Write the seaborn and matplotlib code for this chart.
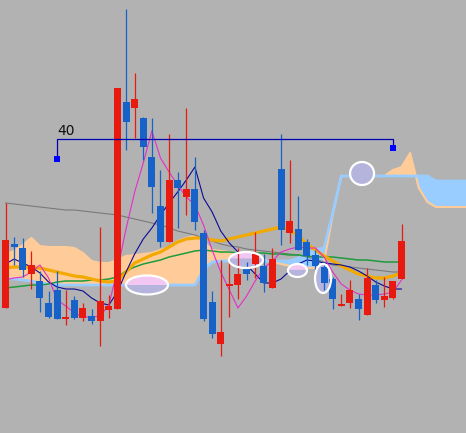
import numpy as np
import matplotlib
matplotlib.use('Agg')
import matplotlib.pyplot as plt
import seaborn as sns
from matplotlib.patches import Ellipse, Polygon

# Свечи (цена в условных единицах)
opens = [125, 189, 185, 159, 152, 130, 143, 114, 133, 115, 117, 112, 123, 124, 331, 325,
         315, 276, 227, 191, 253, 236, 244, 200, 131, 89, 147, 148, 164, 169, 167, 145,
         264, 200, 204, 191, 178, 166, 154, 127, 130, 134, 118, 148, 133, 135, 154]
highs = [230, 196, 195, 182, 162, 142, 162, 143, 137, 130, 124, 206, 138, 345, 424, 360,
         316, 315, 263, 299, 261, 325, 276, 203, 142, 173, 176, 185, 171, 201, 179, 185,
         299, 273, 237, 194, 183, 171, 156, 139, 153, 139, 165, 153, 156, 152, 209]
lows = [125, 168, 156, 144, 121, 115, 114, 108, 114, 112, 109, 87, 115, 124, 283, 295,
        273, 220, 186, 191, 205, 218, 203, 112, 95, 77, 116, 134, 153, 155, 141, 145,
        188, 190, 183, 168, 163, 143, 124, 127, 125, 113, 118, 130, 126, 134, 154]
closes = [193, 186, 163, 168, 135, 116, 114, 116, 115, 125, 112, 132, 127, 345, 311, 334,
          286, 246, 191, 253, 245, 244, 211, 114, 99, 101, 149, 159, 159, 179, 150, 174,
          203, 212, 183, 177, 167, 150, 134, 129, 143, 124, 155, 133, 137, 152, 192]

# Индикаторы
gray_ma = [230, 229, 228, 227, 226, 225, 224, 223, 223, 222, 221, 220, 219, 218, 216, 214,
           212, 210, 208, 205, 202, 200, 198, 195, 192, 189, 187, 186, 184, 183, 182, 181,
           180, 179, 178, 176, 174, 171, 168, 167, 166, 165, 164, 163, 162, 161, 161]
kijun = [169, 174, 170, 166, 160, 151, 146, 144, 144, 142, 135, 130, 128, 141, 161, 179,
         194, 205, 218, 230, 241, 253, 266, 235, 221, 202, 190, 181, 168, 159, 150, 150,
         154, 162, 169, 173, 172, 170, 169, 168, 166, 162, 157, 151, 147, 144, 144]
tenkan = [153, 155, 156, 161, 168, 155, 133, 127, 120, 116, 116, 117, 128, 163, 204, 241,
          270, 302, 275, 261, 248, 236, 228, 208, 183, 161, 143, 125, 137, 152, 165, 172,
          181, 184, 186, 185, 185, 176, 161, 149, 143, 139, 138, 138, 139, 141, 153]
orange_ma = [165, 166, 166, 165, 165, 163, 161, 159, 157, 156, 154, 152, 151, 152, 161, 170,
             174, 178, 181, 186, 191, 194, 195, 195, 193, 192, 194, 196, 198, 200, 202, 204,
             206, 203, 197, 189, 183, 177, 172, 167, 163, 159, 157, 155, 155, 157, 160]
green_ma = [145, 146, 147, 148, 148, 149, 151, 152, 152, 152, 153, 153, 154, 156, 162, 166,
            169, 171, 173, 176, 178, 180, 182, 183, 182, 181, 181, 180, 180, 180, 180, 179,
            179, 178, 178, 177, 176, 176, 176, 175, 174, 173, 173, 172, 171, 171, 171]
span_a = [154, 154, 153, 152, 150, 149, 148, 148, 148, 148, 148, 148, 148, 148, 148, 148,
          148, 148, 148, 148, 148, 148, 148, 163, 171, 172, 172, 172, 172, 172, 172, 172,
          172, 172, 175, 179, 183, 185, 220, 257, 257, 257, 257, 257, 257, 257, 257, 257,
          257, 257, 252, 252, 252, 252, 252]
span_b = [179, 182, 188, 195, 187, 186, 186, 186, 185, 180, 172, 170, 170, 173, 177, 178,
          179, 180, 183, 186, 192, 195, 197, 191, 183, 182, 181, 178, 176, 175, 173, 171,
          169, 167, 165, 165, 165, 171, 218, 257, 257, 257, 257, 257, 257, 263, 266, 280,
          245, 231, 226, 226, 226, 226, 226]

# Выделенные зоны (центр по барам, центр по цене)
zone_bar = [16.43, 27.93, 33.91, 36.88, 41.41]
zone_price = [148, 173, 162.5, 154.5, 259.5]

# Линейка
ruler_start, ruler_end = 6, 45
ruler_level = 294
ruler_marks = [274, 285]

BG = '#B2B2B2'
RED = '#E8190E'
BLUE = '#1662C8'
PEACH = '#FFCC99'
LBLUE = '#99CCFF'

sns.set_style('white', {'axes.facecolor': BG, 'figure.facecolor': BG})

fig = plt.figure(figsize=(4.66, 4.33), dpi=100)
fig.patch.set_facecolor(BG)
ax = fig.add_axes([0, 0, 1, 1])
ax.set_facecolor(BG)

bar_px = 8.61
idx = np.arange(len(opens))
idx_c = np.arange(len(span_a))
sa = np.array(span_a, dtype=float)
sb = np.array(span_b, dtype=float)

# Облако
ax.fill_between(idx_c, sa, sb, where=sb >= sa, interpolate=True, color=PEACH, lw=0, zorder=1)
ax.fill_between(idx_c, sa, sb, where=sa > sb, interpolate=True, color=LBLUE, lw=0, zorder=1)
sns.lineplot(x=idx_c, y=sb, color=PEACH, lw=1.5, ax=ax, zorder=2)
sns.lineplot(x=idx_c, y=sa, color=LBLUE, lw=2.0, ax=ax, zorder=2)

# Линии
sns.lineplot(x=idx, y=gray_ma, color='#7A7A7A', lw=0.8, ax=ax, zorder=3)
sns.lineplot(x=idx, y=green_ma, color='#1E9B3C', lw=1.1, ax=ax, zorder=3)
sns.lineplot(x=idx, y=orange_ma, color='#F2A900', lw=2.3, ax=ax, zorder=3)
sns.lineplot(x=idx, y=kijun, color='#0A0A96', lw=0.8, ax=ax, zorder=3)
sns.lineplot(x=idx, y=tenkan, color='#E62EC8', lw=0.8, ax=ax, zorder=3)

# Выделения
sizes = [(42, 19), (34, 16), (19, 13), (16, 29), (24, 23)]
pink_cut = [0.0, 0.2, 0.1]
for k, (xb, yp) in enumerate(zip(zone_bar, zone_price)):
    w, h = sizes[k][0] / bar_px, sizes[k][1]
    ax.add_patch(Ellipse((xb, yp), w, h, facecolor='#B4B4DC', edgecolor='none', zorder=4))
    if k < len(pink_cut):
        t0 = np.arcsin(pink_cut[k])
        t = np.linspace(t0, np.pi - t0, 60)
        pts = np.column_stack([xb + w / 2 * np.cos(t), yp + h / 2 * np.sin(t)])
        ax.add_patch(Polygon(pts, closed=True, facecolor='#F2C8F2', edgecolor='none',
                             zorder=4.1))
    ax.add_patch(Ellipse((xb, yp), w, h, facecolor='none', edgecolor='white',
                         lw=1.6, zorder=6))

# Свечи
o = np.array(opens); c = np.array(closes)
colors = [RED if cc >= oo else BLUE for oo, cc in zip(o, c)]
ax.vlines(idx, lows, highs, colors=colors, lw=0.9, zorder=5)
bottom = np.minimum(o, c)
height = np.maximum(np.abs(c - o), 2)
ax.bar(idx, height, bottom=bottom, width=7 / bar_px, color=colors, lw=0, zorder=5)

# Линейка
ax.plot([ruler_start, ruler_start, ruler_end, ruler_end],
        [ruler_marks[0], ruler_level, ruler_level, ruler_marks[1]],
        color='#0000B0', lw=0.9, zorder=7)
ax.plot([ruler_start, ruler_end], ruler_marks, 's', color='#0000FF', ms=5, mew=0, zorder=7)
ax.text(ruler_start - 0.02, ruler_level + 4, str(ruler_end - ruler_start + 1),
        fontsize=10, color='#111111', ha='left', va='baseline', zorder=7)

ax.set_xlim(-5.5 / bar_px, (466 - 5.5) / bar_px)
ax.set_ylim(0, 433)
ax.set_axis_off()

fig.savefig('out.png', dpi=100, facecolor=BG)
